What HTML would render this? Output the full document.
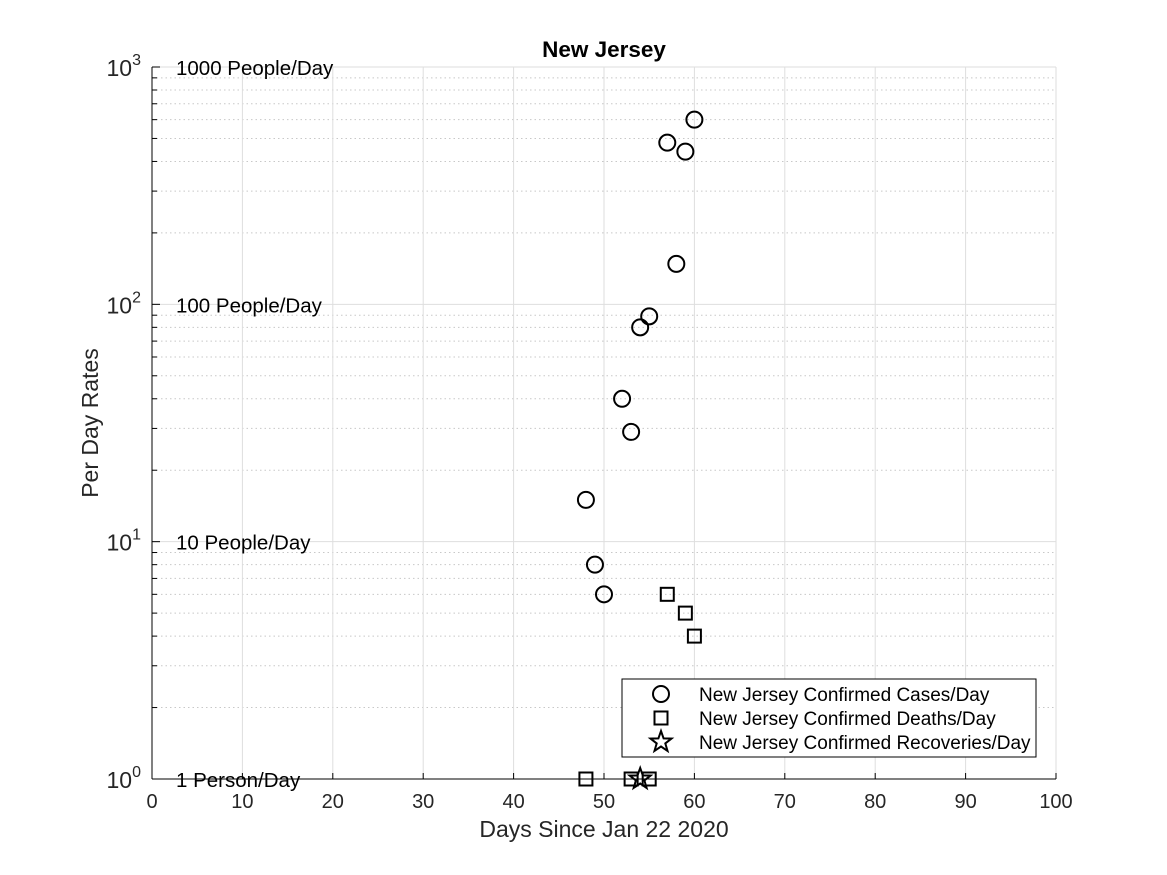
<!DOCTYPE html>
<html><head><meta charset="utf-8"><style>
body{margin:0;background:#fff;}
svg{display:block;font-family:"Liberation Sans",Arial,sans-serif;}
</style></head><body>
<svg id="chart" width="1167" height="875"></svg>
<script>
const caseDays=[48,49,50,52,53,54,55,57,58,59,60];
const caseVals=[15,8,6,40,29,80,89,480,148,440,600];
const deathDays=[48,53,55,57,59,60];
const deathVals=[1,1,1,6,5,4];
const recDays=[54];
const recVals=[1];
const xTicks=[0,10,20,30,40,50,60,70,80,90,100];
const yExps=[0,1,2,3];
const refLabels=["1 Person/Day","10 People/Day","100 People/Day","1000 People/Day"];

const X0=152,X1=1056,Y0=779,Y1=67;
const sx=v=>X0+(v-0)/(100-0)*(X1-X0);
const sy=v=>Y0-(Math.log10(v)-0)/3*(Y0-Y1);
const NS="http://www.w3.org/2000/svg";
const svg=document.getElementById('chart');
function mk(t,a,p){const e=document.createElementNS(NS,t);for(const k in a)e.setAttribute(k,a[k]);(p||svg).appendChild(e);return e;}

const grid=mk('g',{});


for(let d=0;d<3;d++)for(let m=2;m<=9;m++){const y=sy(m*Math.pow(10,d));
 mk('line',{x1:X0,x2:X1,y1:y,y2:y,stroke:'#c8c8c8','stroke-width':1,'stroke-dasharray':'1.5,3'},grid);
 mk('line',{x1:X0,x2:X0+5,y1:y,y2:y,stroke:'#000','stroke-width':1},grid);}
xTicks.forEach(t=>{const x=sx(t);mk('line',{x1:x,x2:x,y1:Y1,y2:Y0,stroke:'#dedede','stroke-width':1},grid);
 mk('line',{x1:x,x2:x,y1:Y0,y2:Y0-6,stroke:'#000'},grid);
 const tx=mk('text',{x:x,y:808,'text-anchor':'middle','font-size':20,fill:'#262626'});tx.textContent=t;
 
 });
yExps.forEach((e,i)=>{const y=sy(Math.pow(10,e));
 mk('line',{x1:X0,x2:X1,y1:y,y2:y,stroke:'#dedede','stroke-width':1},grid);
 mk('line',{x1:X0,x2:X0+8,y1:y,y2:y,stroke:'#000'},grid);
 const t=mk('text',{x:141,y:y+9,'text-anchor':'end','font-size':23,fill:'#262626'});
 t.innerHTML='10<tspan dy="-11" font-size="16">'+e+'</tspan>';
 
 
 const r=mk('text',{x:176,y:y+8,'font-size':20.5,fill:'#000'});r.textContent=refLabels[i];
 
 });
mk('line',{x1:X0,x2:X0,y1:Y1,y2:Y0,stroke:'#000','stroke-width':1});
mk('line',{x1:X0,x2:X1,y1:Y0,y2:Y0,stroke:'#000','stroke-width':1});

const title=mk('text',{x:604,y:57,'text-anchor':'middle','font-size':22.5,'font-weight':'bold'});title.textContent='New Jersey';


const xl=mk('text',{x:604,y:837,'text-anchor':'middle','font-size':23,fill:'#262626'});xl.textContent='Days Since Jan 22 2020';


const yl=mk('text',{x:0,y:0,'text-anchor':'middle','font-size':23,fill:'#262626',transform:'translate(98,423) rotate(-90)'});yl.textContent='Per Day Rates';



function circ(x,y,p){return mk('circle',{cx:x,cy:y,r:8,fill:'none',stroke:'#000','stroke-width':2},p);}
function sq(x,y,p){return mk('rect',{x:x-6.5,y:y-6.5,width:13,height:13,fill:'none',stroke:'#000','stroke-width':2},p);}
function star(x,y,p){let pts=[];for(let i=0;i<10;i++){const r=i%2?4.5:11;const a=-Math.PI/2+i*Math.PI/5;pts.push((x+r*Math.cos(a)).toFixed(1)+','+(y+r*Math.sin(a)).toFixed(1));}
 return mk('polygon',{points:pts.join(' '),fill:'none',stroke:'#000','stroke-width':2},p);}

caseDays.forEach((d,i)=>{const c=circ(sx(d),sy(caseVals[i]));
 
 });
deathDays.forEach((d,i)=>{const c=sq(sx(d),sy(deathVals[i]));
 
 });
recDays.forEach((d,i)=>{const c=star(sx(d),sy(recVals[i]));
 
 });

const lg=mk('g',{});


mk('rect',{x:622,y:679,width:414,height:78,fill:'#fff',stroke:'#000','stroke-width':1},lg);
const labs=['New Jersey Confirmed Cases/Day','New Jersey Confirmed Deaths/Day','New Jersey Confirmed Recoveries/Day'];
const fns=[circ,sq,star];
labs.forEach((l,i)=>{const y=694+i*24;fns[i](661,y,lg);
 const t=mk('text',{x:699,y:y+7,'font-size':19,fill:'#000'},lg);t.textContent=l;
 
 });
</script>
</body></html>
